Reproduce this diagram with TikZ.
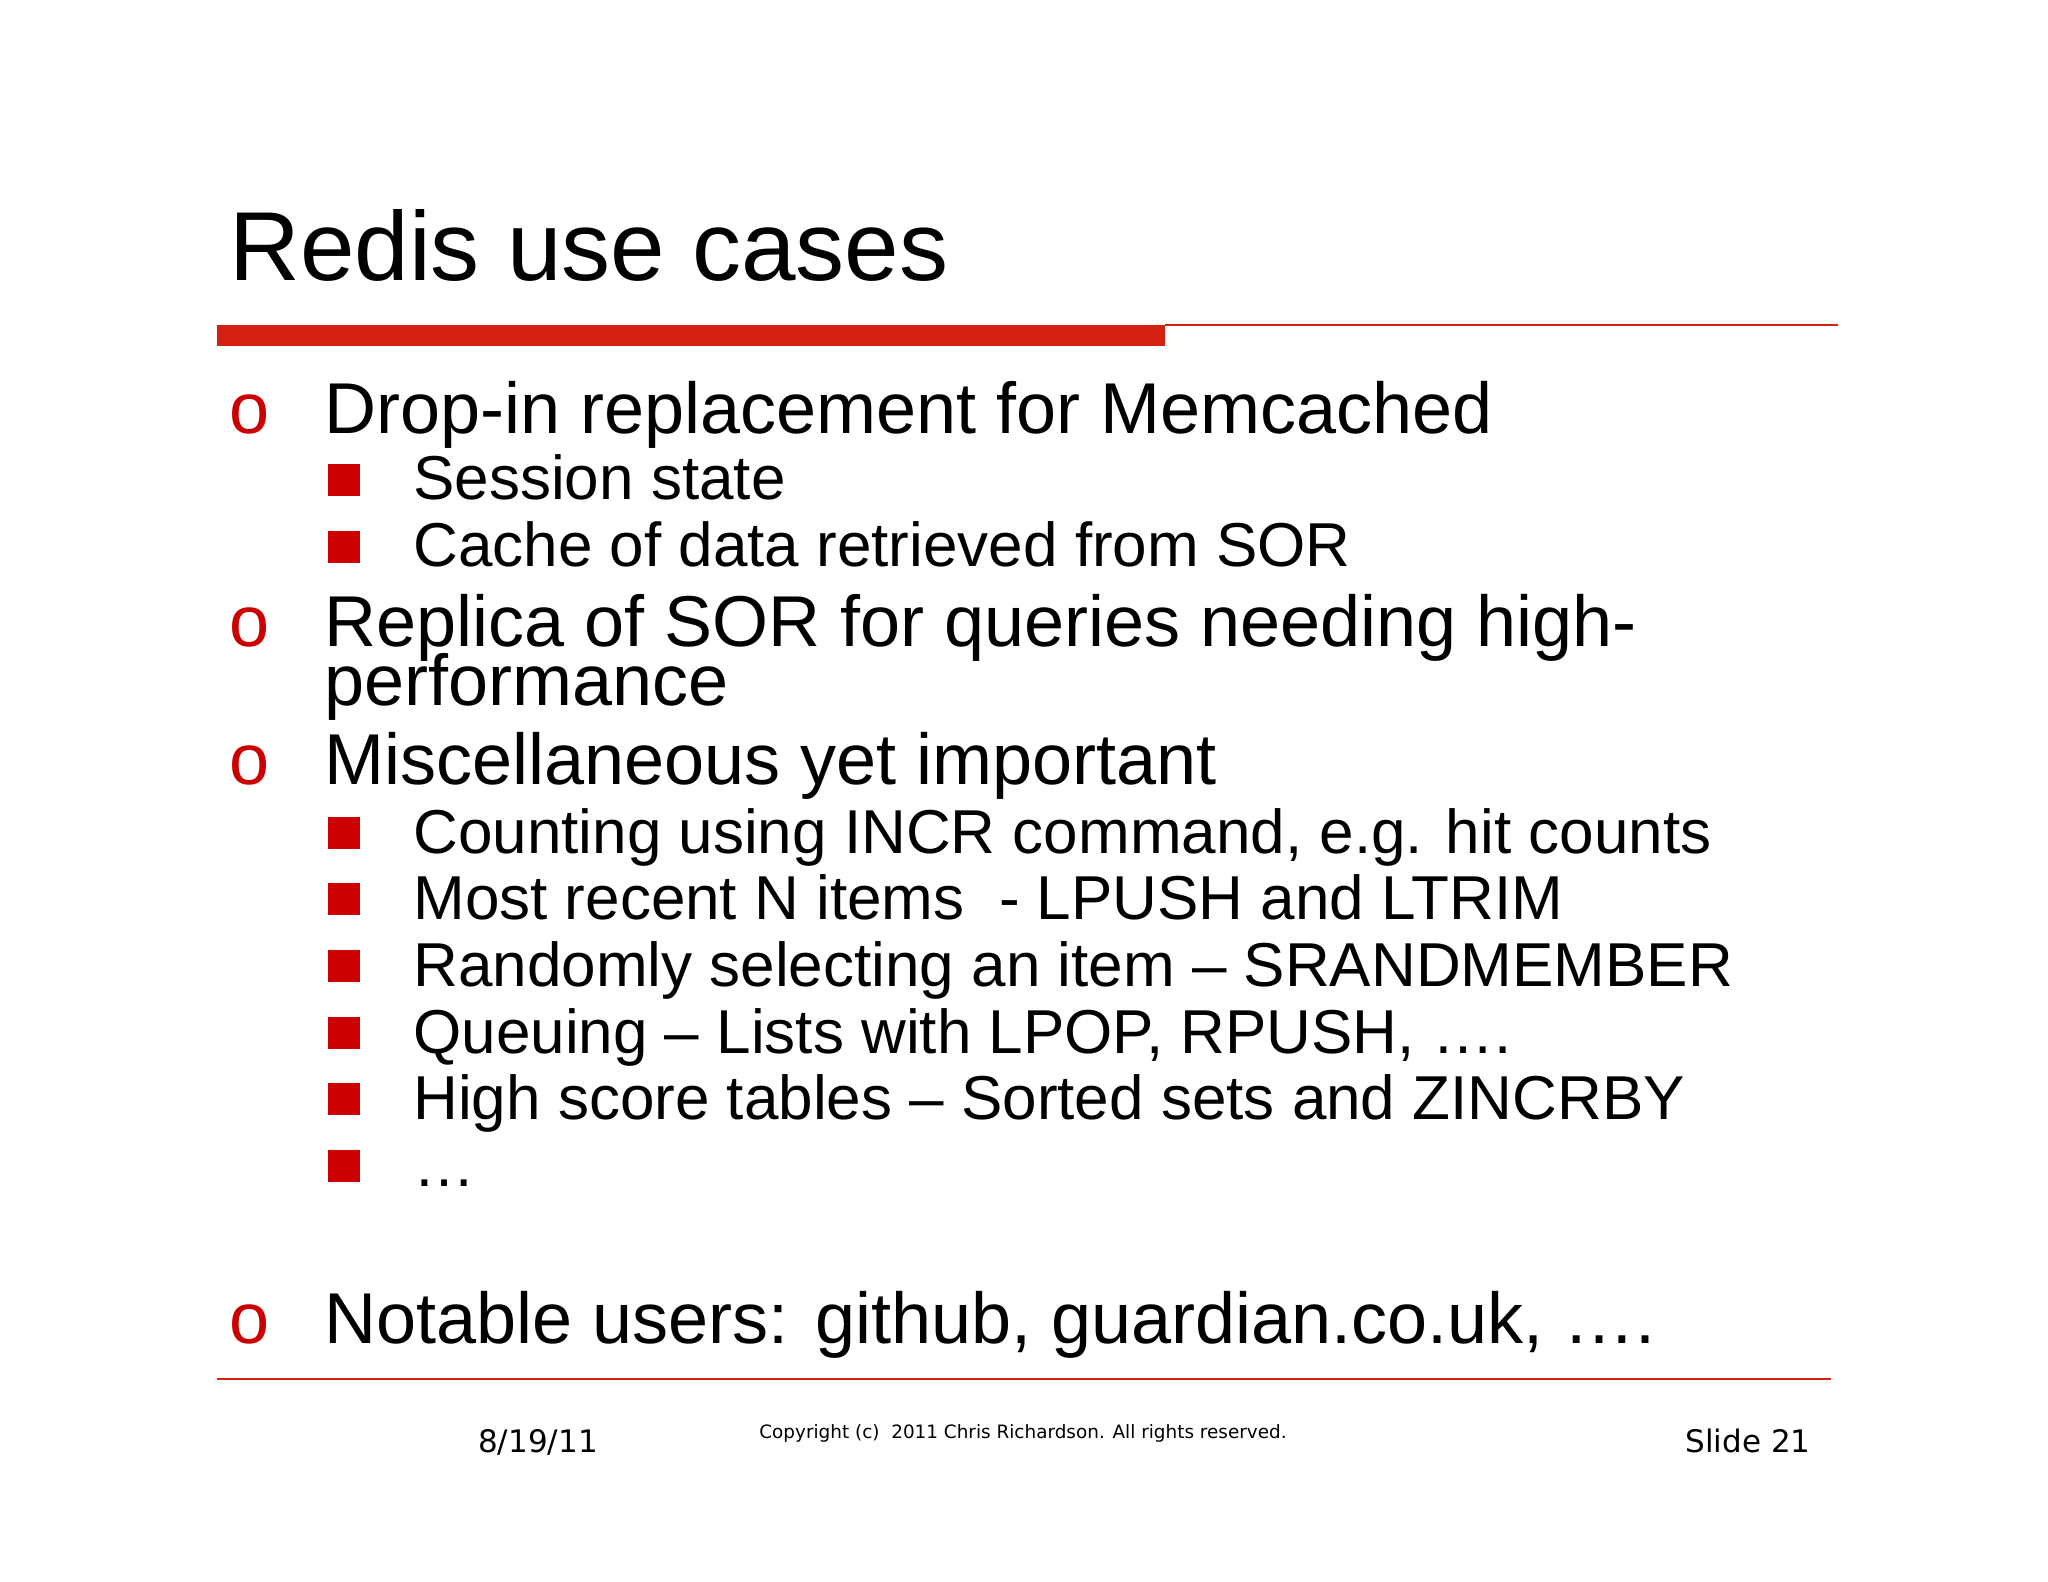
\documentclass[tikz,border=0pt]{standalone}
\usepackage{fontspec}
\setmainfont{Liberation Sans}
\newfontfamily\footfont{DejaVu Sans}
\definecolor{rred}{HTML}{CC0000}
\definecolor{barred}{HTML}{D42010}
\begin{document}
\begin{tikzpicture}[x=0.5pt,y=-0.5pt,
  ttl/.style={anchor=base west,inner sep=0pt,font=\fontsize{49}{58}\selectfont},
  lone/.style={anchor=base west,inner sep=0pt,font=\fontsize{36}{43}\selectfont},
  bul/.style={anchor=base west,inner sep=0pt,font=\fontsize{36}{43}\selectfont,text=rred},
  ltwo/.style={anchor=base west,inner sep=0pt,font=\fontsize{31}{37}\selectfont},
  sq/.style={anchor=south west,fill=rred,inner sep=0pt,minimum size=16pt},
  foot/.style={anchor=base,inner sep=0pt,font=\footfont\fontsize{15.5}{18}\selectfont}]
\useasboundingbox (0,0) rectangle (2048,1582);
\fill[white] (0,0) rectangle (2048,1582);
\node[ttl] (title) at (229,281) {Redis use cases};
\fill[barred] (217,325) rectangle (1165,346);
\draw[barred,line width=1pt] (1165,325) -- (1838,325);
% level 1
\foreach \n/\y/\t in {a/434/{Drop-in replacement for Memcached},
  c/646/{Replica of SOR for queries needing high-},
  d/784/{Miscellaneous yet important},
  e/1343/{Notable users: github, guardian.co.uk, \dots.}}{
  \node[bul] (b\n) at (229,\y) {o};
  \node[lone] (t\n) at (324,\y) {\t};
}
\node[lone] (tc2) at (324,705) {performance};
% level 2
\foreach \n/\y/\t in {1/500/{Session state},2/567/{Cache of data retrieved from SOR},
  3/853/{Counting using INCR command, e.g. hit counts},
  4/919/{Most recent N items\ \ - LPUSH and LTRIM},
  5/986/{Randomly selecting an item -- SRANDMEMBER},
  6/1053/{Queuing -- Lists with LPOP, RPUSH, \dots.},
  7/1119/{High score tables -- Sorted sets and ZINCRBY},
  8/1186/{\dots}}{
  \node[sq] (s\n) at (328,\y-4) {};
  \node[ltwo] (u\n) at (413,\y) {\t};
}
\draw[barred,line width=0.6pt] (217,1379) -- (1831,1379);
\node[foot] (date) at (538,1452) {8/19/11};
\node[foot,font=\footfont\fontsize{9.2}{11}\selectfont] (copy) at (1023,1438) {Copyright (c)\ \ 2011 Chris Richardson. All rights reserved.};
\node[foot,anchor=base east] (slide) at (1811,1452) {Slide 21};
\end{tikzpicture}
\end{document}
